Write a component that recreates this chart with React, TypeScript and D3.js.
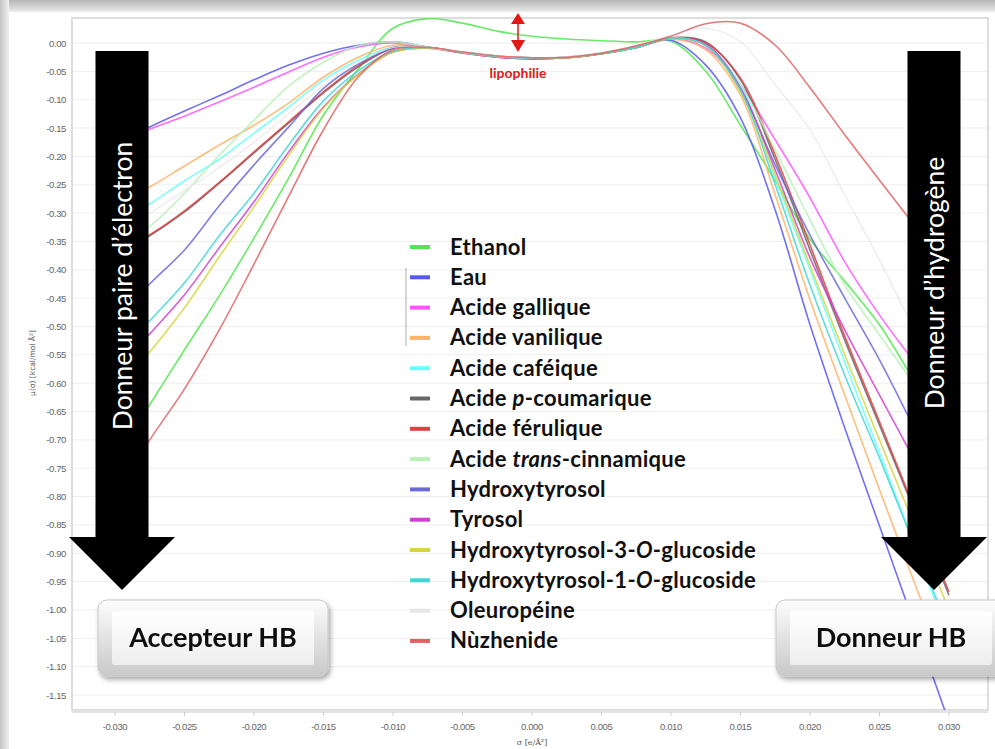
import * as d3 from "d3"

// sigma grid (e/Å²) and sigma-potentials (kcal/mol Å²)
const sigma = [
  -0.03, -0.0275, -0.025, -0.0225, -0.02, -0.0175, -0.015, -0.0125, -0.01,
  -0.0075, -0.005, -0.0025, 0, 0.0025, 0.005, 0.0075,
  0.01, 0.0125, 0.015, 0.0175, 0.02, 0.0225, 0.025, 0.0275, 0.03,
]

const ethanol = [-0.735, -0.638, -0.541, -0.446, -0.344, -0.238, -0.127, -0.046, 0.026, 0.043, 0.035, 0.021, 0.012, 0.007, 0.004, 0.002, 0.003, -0.05, -0.145, -0.243, -0.346, -0.42, -0.497, -0.596, -0.693]
const eau = [-0.178, -0.148, -0.12, -0.093, -0.065, -0.039, -0.018, -0.004, 0.002, -0.007, -0.016, -0.023, -0.026, -0.025, -0.018, -0.007, 0.005, -0.039, -0.132, -0.295, -0.497, -0.679, -0.852, -1.025, -1.198]
const gallique = [-0.18, -0.152, -0.129, -0.104, -0.078, -0.051, -0.025, -0.007, 0.0, -0.008, -0.017, -0.024, -0.027, -0.025, -0.018, -0.008, 0.007, -0.009, -0.074, -0.171, -0.273, -0.386, -0.48, -0.563, -0.647]
const vanilique = [-0.286, -0.254, -0.217, -0.18, -0.145, -0.106, -0.06, -0.025, -0.004, -0.008, -0.016, -0.024, -0.027, -0.026, -0.019, -0.008, 0.007, -0.012, -0.092, -0.268, -0.453, -0.621, -0.788, -0.951, -1.115]
const cafeique = [-0.32, -0.284, -0.243, -0.205, -0.159, -0.113, -0.065, -0.03, -0.007, -0.008, -0.017, -0.024, -0.027, -0.025, -0.018, -0.007, 0.009, -0.004, -0.074, -0.238, -0.4, -0.563, -0.723, -0.885, -1.049]
const coumarique = [-0.374, -0.34, -0.298, -0.247, -0.194, -0.141, -0.088, -0.042, -0.009, -0.008, -0.017, -0.024, -0.027, -0.026, -0.019, -0.008, 0.009, 0.002, -0.065, -0.206, -0.365, -0.524, -0.674, -0.824, -0.974]
const ferulique = [-0.37, -0.338, -0.296, -0.246, -0.192, -0.139, -0.086, -0.04, -0.008, -0.008, -0.017, -0.025, -0.028, -0.026, -0.019, -0.008, 0.009, 0.0, -0.062, -0.198, -0.356, -0.517, -0.668, -0.82, -0.968]
const cinnamique = [-0.356, -0.323, -0.265, -0.198, -0.136, -0.076, -0.034, -0.005, 0.002, -0.007, -0.016, -0.023, -0.026, -0.025, -0.018, -0.007, 0.009, -0.004, -0.074, -0.189, -0.312, -0.427, -0.515, -0.603, -0.7]
const hydroxytyrosol = [-0.49, -0.425, -0.365, -0.287, -0.215, -0.148, -0.08, -0.037, -0.009, -0.008, -0.017, -0.024, -0.027, -0.025, -0.018, -0.008, 0.009, -0.004, -0.083, -0.215, -0.339, -0.45, -0.559, -0.679, -0.797]
const tyrosol = [-0.58, -0.513, -0.444, -0.361, -0.28, -0.192, -0.113, -0.055, -0.016, -0.009, -0.018, -0.025, -0.028, -0.026, -0.019, -0.008, 0.009, -0.002, -0.079, -0.224, -0.379, -0.506, -0.621, -0.735, -0.85]
const htGluco3 = [-0.616, -0.545, -0.467, -0.377, -0.289, -0.198, -0.115, -0.056, -0.016, -0.009, -0.017, -0.024, -0.027, -0.026, -0.019, -0.008, 0.009, -0.005, -0.086, -0.233, -0.392, -0.55, -0.7, -0.85, -1.0]
const htGluco1 = [-0.556, -0.49, -0.423, -0.34, -0.265, -0.18, -0.102, -0.049, -0.014, -0.008, -0.017, -0.024, -0.027, -0.025, -0.018, -0.008, 0.009, -0.004, -0.083, -0.25, -0.427, -0.586, -0.732, -0.885, -1.035]
const oleuropeine = [-0.33, -0.3, -0.26, -0.22, -0.175, -0.125, -0.075, -0.035, -0.008, -0.008, -0.016, -0.023, -0.026, -0.024, -0.016, -0.004, 0.014, 0.026, 0.002, -0.074, -0.153, -0.268, -0.383, -0.506, -0.63]
const nuzhenide = [-0.797, -0.7, -0.61, -0.506, -0.39, -0.27, -0.153, -0.06, -0.012, -0.008, -0.016, -0.023, -0.026, -0.025, -0.018, -0.005, 0.012, 0.034, 0.035, -0.004, -0.079, -0.162, -0.242, -0.321, -0.4]

// legend order; *...* marks italic
const names = [
  "Ethanol", "Eau", "Acide gallique", "Acide vanilique", "Acide caféique",
  "Acide *p*-coumarique", "Acide férulique", "Acide *trans*-cinnamique",
  "Hydroxytyrosol", "Tyrosol", "Hydroxytyrosol-3-*O*-glucoside",
  "Hydroxytyrosol-1-*O*-glucoside", "Oleuropéine", "Nùzhenide",
]
const values = [
  ethanol, eau, gallique, vanilique, cafeique, coumarique, ferulique,
  cinnamique, hydroxytyrosol, tyrosol, htGluco3, htGluco1, oleuropeine, nuzhenide,
]
const colors = [
  "#4fe84f", "#5858f0", "#ff55ff", "#ffb366", "#66ffff", "#666666", "#e04040",
  "#b8f0b8", "#6a6ad8", "#d040d0", "#d6d640", "#40d6d6", "#e6e6e6", "#e06262",
]

const yTicks = [0, -0.05, -0.1, -0.15, -0.2, -0.25, -0.3, -0.35, -0.4, -0.45, -0.5, -0.55, -0.6, -0.65, -0.7, -0.75, -0.8, -0.85, -0.9, -0.95, -1.0, -1.05, -1.1, -1.15]
const xTicks = [-0.03, -0.025, -0.02, -0.015, -0.01, -0.005, 0, 0.005, 0.01, 0.015, 0.02, 0.025, 0.03]

const plot = { left: 72, right: 988, top: 18, bottom: 710 }
const font = "Lato, 'Open Sans', sans-serif"

function Label({ text }: { text: string }) {
  const parts = text.split("*")
  return (
    <>
      {parts.map((p, i) => (
        <tspan key={i} fontStyle={i % 2 ? "italic" : "normal"}>{p}</tspan>
      ))}
    </>
  )
}

function Button({ x0, y0, w, h, label }: { x0: number; y0: number; w: number; h: number; label: string }) {
  return (
    <g filter="url(#shadow)">
      <rect x={x0} y={y0} width={w} height={h} rx={9} fill="url(#btnOuter)" stroke="#c8c8c8" />
      <rect x={x0 + 14} y={y0 + 11} width={w - 28} height={h - 22} rx={3} fill="url(#btnInner)" />
      <text x={x0 + w / 2} y={y0 + h / 2 + 9} textAnchor="middle" fontFamily={font}
        fontWeight="bold" fontSize={27} fill="#111">{label}</text>
    </g>
  )
}

function Arrow({ cx, cy, label }: { cx: number; cy: number; label: string }) {
  const shaftW = 53
  const top = 51
  const headY = 537
  const tip = 590
  const headHalf = 53
  const pts = [
    [cx - shaftW / 2, top], [cx + shaftW / 2, top], [cx + shaftW / 2, headY],
    [cx + headHalf, headY], [cx, tip], [cx - headHalf, headY], [cx - shaftW / 2, headY],
  ]
  return (
    <g>
      <polygon points={pts.map(p => p.join(",")).join(" ")} fill="#000" />
      <text transform={`translate(${cx + 10},${cy}) rotate(-90)`} textAnchor="middle"
        fontFamily={font} fontSize={26.5} fill="#fff">{label}</text>
    </g>
  )
}

export default function App() {
  const x = d3.scaleLinear().domain([-0.03, 0.03]).range([115, 949])
  const y = d3.scaleLinear().domain([0, -1.15]).range([43, 695])
  const line = d3.line<number>()
    .x((_, i) => x(sigma[i]))
    .y(d => y(d))
    .curve(d3.curveCatmullRom.alpha(0.5))

  const legendX = 410
  const legendY0 = 247
  const legendStep = 30.3

  return (
    <svg width={995} height={749} style={{ position: "absolute", left: 0, top: 0, background: "#fff" }}>
      <defs>
        <linearGradient id="topBar" x1="0" y1="0" x2="0" y2="1">
          <stop offset="0" stopColor="#b4b4b4" />
          <stop offset="1" stopColor="#ededed" />
        </linearGradient>
        <linearGradient id="leftBar" x1="0" y1="0" x2="1" y2="0">
          <stop offset="0" stopColor="#c4c4c4" />
          <stop offset="1" stopColor="#f0f0f0" />
        </linearGradient>
        <linearGradient id="btnOuter" x1="0" y1="0" x2="0" y2="1">
          <stop offset="0" stopColor="#fdfdfd" />
          <stop offset="0.5" stopColor="#e2e2e2" />
          <stop offset="1" stopColor="#c9c9c9" />
        </linearGradient>
        <linearGradient id="btnInner" x1="0" y1="0" x2="0" y2="1">
          <stop offset="0" stopColor="#ffffff" />
          <stop offset="1" stopColor="#eeeeee" />
        </linearGradient>
        <filter id="shadow" x="-10%" y="-20%" width="130%" height="160%">
          <feDropShadow dx="2" dy="3" stdDeviation="2.5" floodColor="#000" floodOpacity="0.35" />
        </filter>
        <clipPath id="plotClip">
          <rect x={plot.left} y={plot.top} width={plot.right - plot.left} height={plot.bottom - plot.top} />
        </clipPath>
      </defs>

      {/* frame shading */}
      <rect x={0} y={0} width={995} height={12} fill="url(#topBar)" />
      <rect x={0} y={0} width={9} height={749} fill="url(#leftBar)" />

      {/* grid */}
      {yTicks.map(t => (
        <line key={t} x1={plot.left} x2={plot.right} y1={y(t)} y2={y(t)} stroke="#eeeeee" strokeWidth={1} />
      ))}
      <rect x={plot.left} y={plot.top} width={plot.right - plot.left} height={plot.bottom - plot.top}
        fill="none" stroke="#d4d4d4" strokeWidth={1.5} />
      <line x1={plot.left} x2={plot.right} y1={plot.bottom + 2} y2={plot.bottom + 2} stroke="#c8c8c8" />

      {/* y axis */}
      {yTicks.map(t => (
        <text key={t} x={66} y={y(t) + 3.5} textAnchor="end" fontFamily="'Liberation Sans', sans-serif"
          fontSize={9.5} fill="#666" letterSpacing={-0.4}>{t.toFixed(2)}</text>
      ))}
      <text transform="translate(35,363) rotate(-90)" textAnchor="middle" fontFamily="'DejaVu Sans', sans-serif"
        fontSize={7.5} fill="#555">μ(σ) [kcal/mol Å²]</text>

      {/* x axis */}
      {xTicks.map(t => (
        <g key={t}>
          <line x1={x(t)} x2={x(t)} y1={plot.bottom + 2} y2={plot.bottom + 6} stroke="#ccc" />
          <text x={x(t)} y={730} textAnchor="middle" fontFamily="'Liberation Sans', sans-serif"
            fontSize={9.5} fill="#666" letterSpacing={-0.4}>{t.toFixed(3)}</text>
        </g>
      ))}
      <text x={x(0)} y={745} textAnchor="middle" fontFamily="'DejaVu Serif', serif" fontSize={8} fill="#555">σ [e/Å²]</text>

      {/* curves */}
      <g clipPath="url(#plotClip)" fill="none">
        {values.map((v, i) => (
          <path key={names[i]} d={line(v) ?? ""} stroke={colors[i]}
            strokeWidth={names[i] === "Oleuropéine" ? 1.2 : 1.6} strokeOpacity={0.85} />
        ))}
      </g>

      {/* lipophilie */}
      <line x1={518} x2={518} y1={20} y2={44} stroke="#e01818" strokeWidth={1.5} />
      <polygon points="511,24 525,24 518,13" fill="#e01818" />
      <polygon points="511,40 525,40 518,52" fill="#e01818" />
      <text x={518} y={78} textAnchor="middle" fontFamily={font} fontWeight="bold"
        fontSize={14} fill="#e01818">lipophilie</text>

      {/* legend */}
      <line x1={406} x2={406} y1={268} y2={346} stroke="#999" strokeWidth={0.8} />
      {names.map((n, i) => {
        const cy = legendY0 + i * legendStep
        return (
          <g key={n}>
            <line x1={legendX} x2={legendX + 20} y1={cy} y2={cy} stroke={colors[i]} strokeWidth={4} />
            <text x={450} y={cy + 7.5} fontFamily={font} fontWeight="bold"
              fontSize={22} letterSpacing={0.3} fill="#111"><Label text={n} /></text>
          </g>
        )
      })}

      {/* arrows */}
      <Arrow cx={122} cy={286} label="Donneur paire d’électron" />
      <Arrow cx={934} cy={283} label="Donneur d’hydrogène" />

      {/* buttons */}
      <Button x0={98} y0={600} w={230} h={76} label="Accepteur HB" />
      <Button x0={776} y0={600} w={230} h={76} label="Donneur HB" />
    </svg>
  )
}
